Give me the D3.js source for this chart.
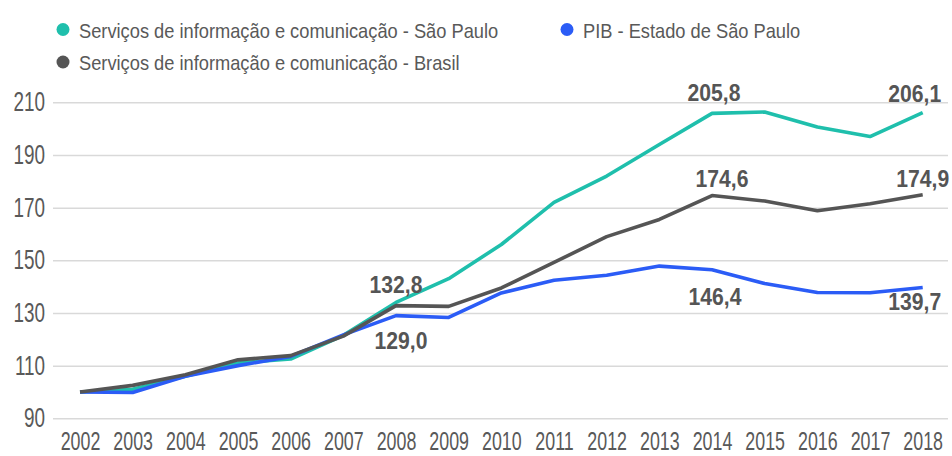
<!DOCTYPE html>
<html>
<head>
<meta charset="utf-8">
<script src="https://cdn.jsdelivr.net/npm/d3@7"></script>
<style>
  body { margin: 0; background: #fff; }
  svg text { font-family: "Liberation Sans", Arial, sans-serif; }
</style>
</head>
<body>
<div id="chart"></div>
<script>
// chart data
const years = [2002, 2003, 2004, 2005, 2006, 2007, 2008, 2009, 2010, 2011, 2012, 2013, 2014, 2015, 2016, 2017, 2018];
const servicosSP = [100, 101, 106, 111, 112.5, 121.5, 134, 143, 156, 172, 182, 194, 205.8, 206.3, 200.6, 197, 206.1];
const servicosBR = [100, 102.5, 106.5, 112.2, 113.8, 121.2, 132.8, 132.5, 139.5, 149.2, 159, 165.5, 174.6, 172.5, 168.8, 171.5, 174.9];
const pibSP = [100, 99.8, 106, 110, 113.5, 121.7, 129.0, 128.3, 137.6, 142.4, 144.3, 147.8, 146.4, 141.2, 137.8, 137.7, 139.7];
const yTicks = [90, 110, 130, 150, 170, 190, 210];

// series names and colours
const seriesNames = ["Serviços de informação e comunicação - São Paulo", "Serviços de informação e comunicação - Brasil", "PIB - Estado de São Paulo"];
const seriesColors = ["#1fbfac", "#555555", "#2b5cf6"];

// labelled points: series index, year index, label, dx, dy (baseline offset)
const pointLabels = [
  [0, 12, "205,8", 2, -12],
  [0, 16, "206,1", -8, -11],
  [1, 12, "174,6", 10, -8.5],
  [1, 16, "174,9", 0, -8],
  [1, 6, "132,8", 0, -13],
  [2, 6, "129,0", 5, 33],
  [2, 12, "146,4", 3, 35],
  [2, 16, "139,7", -8, 23]
];

const width = 952;
const height = 456;

// the original font is a condensed one, so texts get squeezed horizontally
const tickSqueeze = 0.7;
const labelSqueeze = 0.9;
const legendSqueeze = 0.87;

const svg = d3.select("#chart")
  .append("svg")
    .attr("width", width)
    .attr("height", height);

const x = d3.scalePoint()
  .domain(years)
  .range([80, 922.7]);

const y = d3.scaleLinear()
  .domain([90, 210])
  .range([418.3, 102.3]);

// gridlines + y labels
const yAxis = svg.append("g")
  .attr("transform", "translate(53,0)")
  .call(d3.axisLeft(y).tickValues(yTicks).tickSize(-(948 - 53)).tickPadding(8));
yAxis.select(".domain").remove();
yAxis.selectAll("line").attr("stroke", "#d9d9d9").attr("stroke-width", 1.5);
yAxis.selectAll("text")
  .attr("x", null)
  .attr("transform", `translate(-8,0) scale(${tickSqueeze},1)`)
  .attr("fill", "#595959")
  .style("font-size", "27px");

// x labels
const xAxis = svg.append("g")
  .attr("transform", "translate(0,418.3)")
  .call(d3.axisBottom(x).tickSize(0).tickPadding(13.5));
xAxis.select(".domain").remove();
xAxis.selectAll("text")
  .attr("transform", `scale(${tickSqueeze},1)`)
  .attr("fill", "#595959")
  .style("font-size", "25.5px");

// lines (teal, blue, then grey on top)
const allSeries = [servicosSP, servicosBR, pibSP];
const line = d3.line()
  .x((d, i) => x(years[i]))
  .y(d => y(d));

[0, 2, 1].forEach(function(s) {
  svg.append("path")
    .datum(allSeries[s])
    .attr("fill", "none")
    .attr("stroke", seriesColors[s])
    .attr("stroke-width", 3.6)
    .attr("stroke-linejoin", "round")
    .attr("d", line);
});

// value labels
svg.append("g")
  .selectAll("text")
  .data(pointLabels)
  .join("text")
    .attr("transform", d => `translate(${x(years[d[1]]) + d[3]},${y(allSeries[d[0]][d[1]]) + d[4]}) scale(${labelSqueeze},1)`)
    .attr("text-anchor", "middle")
    .attr("fill", "#555555")
    .style("font-size", "23.5px")
    .style("font-weight", "bold")
    .text(d => d[2]);

// legend
const legendPos = [[63, 29.5], [63, 62], [567, 29.5]];
const legend = svg.append("g")
  .selectAll("g")
  .data(seriesNames)
  .join("g")
    .attr("transform", (d, i) => `translate(${legendPos[i][0]},${legendPos[i][1]})`);

legend.append("circle")
  .attr("r", 6.5)
  .attr("fill", (d, i) => seriesColors[i]);

legend.append("text")
  .attr("transform", `translate(16,8) scale(${legendSqueeze},1)`)
  .attr("fill", "#595959")
  .style("font-size", "21px")
  .text(d => d);
</script>
</body>
</html>
